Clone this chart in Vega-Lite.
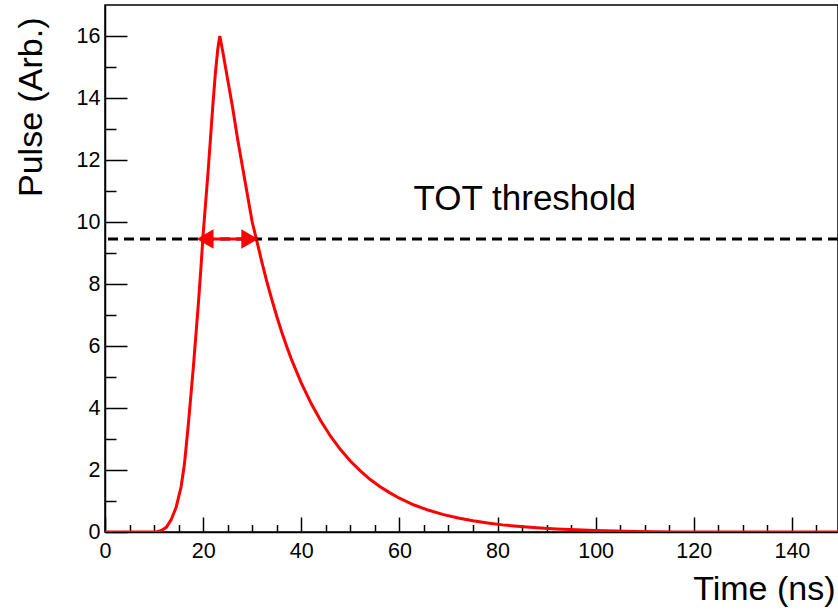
{
  "$schema": "https://vega.github.io/schema/vega-lite/v6.json",
  "autosize": {"type": "none"},
  "width": 733,
  "height": 527,
  "padding": {"left": 105, "top": 5, "right": 0, "bottom": 79},
  "background": "white",
  "config": {
    "view": {"stroke": "#000", "strokeWidth": 1.5},
    "font": "Liberation Sans",
    "axis": {
      "domainColor": "#000",
      "domainWidth": 1.5,
      "tickColor": "#000",
      "tickWidth": 1.5,
      "labelColor": "#000",
      "titleColor": "#000",
      "labelFont": "Liberation Sans",
      "titleFont": "Liberation Sans",
      "labelFontSize": 21.5,
      "titleFontSize": 34,
      "titleFontWeight": "normal",
      "labelFlush": false,
      "grid": false
    }
  },
  "encoding": {
    "x": {
      "field": "t",
      "type": "quantitative",
      "scale": {"domain": [0, 149.4], "nice": false, "zero": false},
      "axis": {
        "title": "Time (ns)",
        "format": "d",
        "values": [0,5,10,15,20,25,30,35,40,45,50,55,60,65,70,75,80,85,90,95,100,105,110,115,120,125,130,135,140,145],
        "tickSize": {"condition": {"test": "datum.value % 20 === 0", "value": -15}, "value": -7.5},
        "labelExpr": "datum.value % 20 === 0 ? datum.label : ''",
        "labelPadding": 23,
        "titleAnchor": "end",
        "titleAlign": "right",
        "titleBaseline": "alphabetic",
        "titleX": 730,
        "titleY": 67
      }
    },
    "y": {
      "field": "v",
      "type": "quantitative",
      "scale": {"domain": [0, 17], "nice": false, "zero": false},
      "axis": {
        "title": "Pulse (Arb.)",
        "format": "d",
        "values": [0,0.5,1,1.5,2,2.5,3,3.5,4,4.5,5,5.5,6,6.5,7,7.5,8,8.5,9,9.5,10,10.5,11,11.5,12,12.5,13,13.5,14,14.5,15,15.5,16,16.5],
        "tickSize": {"condition": {"test": "datum.value % 2 === 0", "value": -22}, "value": -11},
        "labelExpr": "datum.value % 2 === 0 ? datum.label : ''",
        "labelPadding": 27,
        "titleAngle": -90,
        "titleAlign": "right",
        "titleBaseline": "alphabetic",
        "titleX": -64,
        "titleY": 12
      }
    }
  },
  "layer": [
    {
      "data": {"values": [
        {"t": 0, "v": 0}, {"t": 10.5, "v": 0}, {"t": 11.5, "v": 0.05}, {"t": 12.5, "v": 0.15},
        {"t": 13.5, "v": 0.4}, {"t": 14.5, "v": 0.8}, {"t": 15.5, "v": 1.45}, {"t": 16.2, "v": 2.2},
        {"t": 17, "v": 3.5}, {"t": 17.5, "v": 4.4}, {"t": 18, "v": 5.3}, {"t": 18.5, "v": 6.3},
        {"t": 19, "v": 7.3}, {"t": 19.5, "v": 8.4}, {"t": 20, "v": 9.6}, {"t": 20.5, "v": 10.6},
        {"t": 21, "v": 11.6}, {"t": 21.5, "v": 12.7}, {"t": 22, "v": 13.8}, {"t": 22.5, "v": 14.8},
        {"t": 23, "v": 15.6}, {"t": 23.4, "v": 16.0}, {"t": 24, "v": 15.5}, {"t": 25, "v": 14.6},
        {"t": 26, "v": 13.7}, {"t": 27, "v": 12.7}, {"t": 28, "v": 11.8}, {"t": 29, "v": 10.9},
        {"t": 30, "v": 10.0}, {"t": 31, "v": 9.35}, {"t": 32, "v": 8.69}, {"t": 33, "v": 8.07},
        {"t": 34, "v": 7.5}, {"t": 35, "v": 6.96}, {"t": 36, "v": 6.46}, {"t": 37, "v": 6.0},
        {"t": 38, "v": 5.57}, {"t": 40, "v": 4.81}, {"t": 42, "v": 4.15}, {"t": 44, "v": 3.58},
        {"t": 46, "v": 3.08}, {"t": 48, "v": 2.66}, {"t": 50, "v": 2.29}, {"t": 52, "v": 1.98},
        {"t": 54, "v": 1.7}, {"t": 56, "v": 1.47}, {"t": 58, "v": 1.27}, {"t": 60, "v": 1.09},
        {"t": 63, "v": 0.87}, {"t": 66, "v": 0.7}, {"t": 69, "v": 0.56}, {"t": 72, "v": 0.45},
        {"t": 75, "v": 0.36}, {"t": 78, "v": 0.29}, {"t": 81, "v": 0.23}, {"t": 84, "v": 0.185},
        {"t": 88, "v": 0.137}, {"t": 92, "v": 0.1}, {"t": 96, "v": 0.07}, {"t": 100, "v": 0.05},
        {"t": 104, "v": 0.035}, {"t": 108, "v": 0.02}, {"t": 112, "v": 0.01}, {"t": 116, "v": 0},
        {"t": 149.4, "v": 0}
      ]},
      "mark": {"type": "line", "color": "#ff0000", "strokeWidth": 3, "clip": true}
    },
    {
      "data": {"values": [{"v": 9.45}]},
      "mark": {"type": "rule", "color": "#000", "strokeWidth": 3, "strokeDash": [10, 6]},
      "encoding": {"x": null}
    },
    {
      "data": {"values": [{"t": 20.4, "t2": 29.5, "v": 9.45}]},
      "mark": {"type": "rule", "color": "#ff0000", "strokeWidth": 3},
      "encoding": {"x2": {"field": "t2"}}
    },
    {
      "data": {"values": [{"t": 20.4, "v": 9.45}]},
      "mark": {"type": "point", "shape": "triangle-left", "filled": true, "color": "#ff0000", "opacity": 1, "size": 380}
    },
    {
      "data": {"values": [{"t": 29.5, "v": 9.45}]},
      "mark": {"type": "point", "shape": "triangle-right", "filled": true, "color": "#ff0000", "opacity": 1, "size": 380}
    },
    {
      "data": {"values": [{"t": 62.9, "v": 10.4, "label": "TOT threshold"}]},
      "mark": {"type": "text", "align": "left", "baseline": "alphabetic", "fontSize": 35, "font": "Liberation Sans", "color": "#000"},
      "encoding": {"text": {"field": "label"}}
    }
  ]
}
